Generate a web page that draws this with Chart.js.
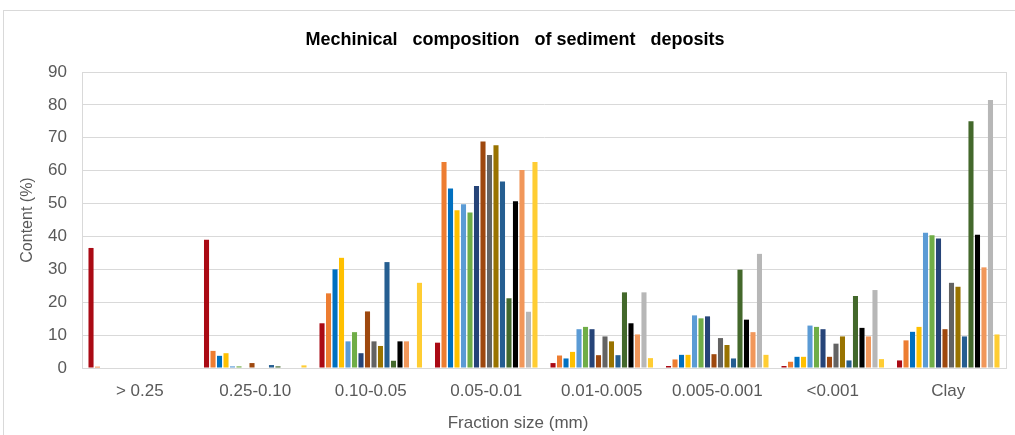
<!DOCTYPE html>
<html>
<head>
<meta charset="utf-8">
<script src="https://cdn.jsdelivr.net/npm/chart.js@4.4.1/dist/chart.umd.min.js"></script>
<style>
  html, body { margin: 0; padding: 0; background: #fff; }
  #wrap { position: relative; width: 1015px; height: 435px; overflow: hidden; }
  #frame { position: absolute; left: 3px; top: 10px; width: 1040px; height: 440px; border: 1px solid #d9d9d9; box-sizing: border-box; }
  #chart { position: absolute; left: 0; top: 0; }
</style>
</head>
<body>
<div id="wrap">
  <div id="frame"></div>
  <canvas id="chart" width="1015" height="435"></canvas>
</div>
<script>
// categories (fraction size)
var fractions = ['> 0.25', '0.25-0.10', '0.10-0.05', '0.05-0.01', '0.01-0.005', '0.005-0.001', '<0.001', 'Clay']

// one series per sample, values per fraction (%)
var s1  = [36.5, 39.0, 13.6,  7.7,  1.5,  0.6,  0.6,  2.3]
var s2  = [ 0.4,  5.2, 22.7, 62.6,  3.8,  2.6,  1.9,  8.4]
var s3  = [ 0,    3.7, 30.0, 54.6,  2.9,  4.0,  3.4, 11.0]
var s4  = [ 0,    4.5, 33.5, 48.0,  4.9,  4.0,  3.4, 12.5]
var s5  = [ 0,    0.5,  8.1, 49.8, 11.8, 16.0, 12.9, 41.1]
var s6  = [ 0,    0.5, 10.9, 47.3, 12.5, 15.1, 12.5, 40.4]
var s7  = [ 0,    0,    4.5, 55.3, 11.8, 15.7, 11.8, 39.4]
var s8  = [ 0,    1.5, 17.2, 68.9,  3.9,  4.2,  3.4, 11.8]
var s9  = [ 0,    0,    8.1, 64.8,  9.6,  9.1,  7.4, 25.9]
var s10 = [ 0,    0,    6.7, 67.7,  8.1,  7.0,  9.6, 24.7]
var s11 = [ 0,    0.9, 32.2, 56.7,  3.9,  2.9,  2.3,  9.6]
var s12 = [ 0,    0.5,  2.2, 21.2, 23.0, 29.9, 21.9, 75.0]
var s13 = [ 0,    0,    8.1, 50.7, 13.6, 14.7, 12.2, 40.5]
var s14 = [ 0,    0,    8.1, 60.2, 10.2, 10.9,  9.6, 30.6]
var s15 = [ 0,    0,    0,   17.1, 23.0, 34.7, 23.7, 81.5]
var s16 = [ 0,    0.8, 25.9, 62.6,  3.0,  4.0,  2.7, 10.2]

var y_ticks = [0, 10, 20, 30, 40, 50, 60, 70, 80, 90]

var chart_title = 'Mechinical   composition   of sediment   deposits'
var x_title = 'Fraction size (mm)'
var y_title = 'Content (%)'

var series = [s1, s2, s3, s4, s5, s6, s7, s8, s9, s10, s11, s12, s13, s14, s15, s16]
var colors = ['#AA0A14', '#ED7D31', '#0070C0', '#FFC000', '#5B9BD5', '#70AD47', '#264478', '#9E480E',
              '#636363', '#997300', '#255E91', '#43682B', '#000000', '#F1975A', '#B7B7B7', '#FFCD33']

var datasets = []
for (let i in series) {
  datasets.push({
    label: 'Sample ' + (parseInt(i) + 1),
    data: series[i],
    backgroundColor: colors[i],
    borderWidth: 0,
    categoryPercentage: 0.9,
    barPercentage: 0.78
  })
}

var fontFam = '"Liberation Sans", Arial, sans-serif'

// plot area frame + titles centred on the whole chart (like Excel)
var extras = {
  id: 'extras',
  afterDraw: function(chart) {
    var a = chart.chartArea
    var ctx = chart.ctx
    ctx.save()
    ctx.strokeStyle = '#d9d9d9'
    ctx.lineWidth = 1
    ctx.strokeRect(Math.round(a.left) + 0.5, Math.round(a.top) + 0.5, Math.round(a.right - a.left), Math.round(a.bottom - a.top))

    ctx.textAlign = 'center'
    ctx.textBaseline = 'middle'
    ctx.fillStyle = '#000'
    ctx.font = 'bold 18px ' + fontFam
    ctx.fillText(chart_title, 515, 40)

    ctx.fillStyle = '#595959'
    ctx.font = '17px ' + fontFam
    ctx.fillText(x_title, 518, 423)
    ctx.restore()
  }
}

new Chart(document.getElementById('chart'), {
  type: 'bar',
  data: { labels: fractions, datasets: datasets },
  plugins: [extras],
  options: {
    responsive: false,
    animation: false,
    layout: { padding: { left: 0, right: 9, top: 72, bottom: 0 } },
    plugins: {
      legend: { display: false },
      tooltip: { enabled: false },
      title: { display: false }
    },
    scales: {
      x: {
        grid: { display: false, drawTicks: false },
        border: { display: true, color: '#d9d9d9' },
        ticks: { color: '#595959', font: { family: fontFam, size: 17 }, padding: 13, maxRotation: 0 },
        afterFit: function(scale) { scale.height = 67 }
      },
      y: {
        min: 0,
        max: 90,
        afterBuildTicks: function(scale) { scale.ticks = y_ticks.map(function(v) { return { value: v } }) },
        grid: { color: '#d9d9d9', drawTicks: false },
        border: { display: true, color: '#d9d9d9' },
        ticks: { color: '#595959', font: { family: fontFam, size: 17 }, padding: 15 },
        title: { display: true, text: y_title, color: '#595959', font: { family: fontFam, size: 16 }, padding: { top: 18, bottom: 0 } },
        afterFit: function(scale) { scale.width = 82 }
      }
    }
  }
})
</script>
</body>
</html>
